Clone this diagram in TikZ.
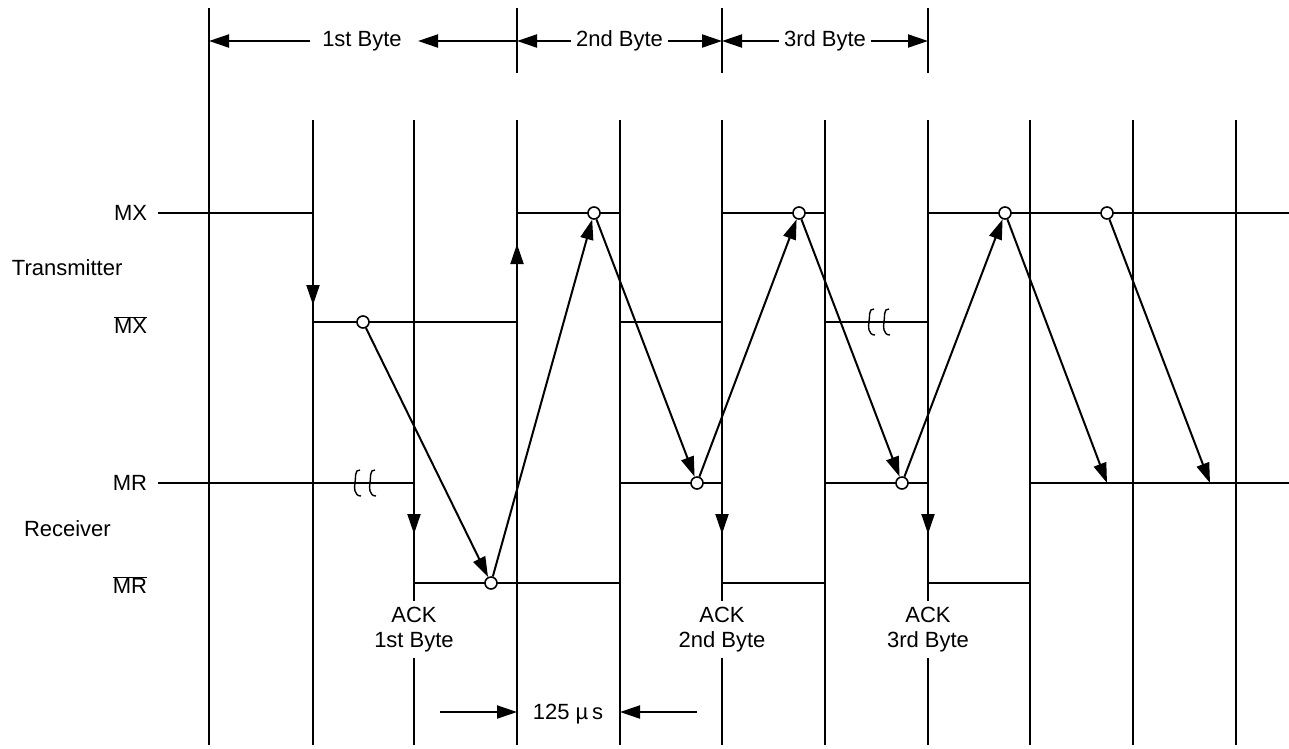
\documentclass[tikz,border=0pt]{standalone}
\usepackage{fontspec}
\setmainfont{Liberation Sans}
\usetikzlibrary{arrows.meta}
\newcommand\brkmark[2]{%
  \draw[line width=1.4pt] ({#1+5},{#2-13}) .. controls ({#1-1},{#2-14}) and ({#1+1},{#2-4}) .. ({#1},{#2})
     .. controls ({#1-1},{#2+4}) and ({#1-1},{#2+13}) .. ({#1+6},{#2+13});}
\begin{document}
\begin{tikzpicture}[x=1pt,y=-1pt,line width=2pt,
  tip/.style={-{Triangle[length=20pt,width=13pt]}},
  dot/.style={circle,draw,fill=white,minimum size=12pt,inner sep=0pt,line width=1.6pt},
  lbl/.style={font=\fontsize{22}{25}\selectfont,inner sep=2pt},
  sig/.style={line width=2pt}]
\useasboundingbox (0,0) rectangle (1289,748);

% grid lines
\draw (209,8) -- (209,745);
\foreach \x in {517,722,928} \draw (\x,8) -- (\x,73);
\foreach \x in {313,517,620,825,1030,1133,1236} \draw (\x,120) -- (\x,745);
\foreach \x in {414,722,928} {\draw (\x,120) -- (\x,601); \draw (\x,658) -- (\x,745);}

% top byte markers
\node[lbl] (b1) at (362,41) {1st Byte};
\coordinate (b1l) at (310,41);
\coordinate (b1a) at (209,41);
\coordinate (b1r) at (517,41);
\coordinate (b1t) at (418,41);
\draw[tip] (b1l) -- (b1a);
\draw[tip] (b1r) -- (b1t);
\node[lbl,inner sep=4pt] (b2) at (619.5,41) {2nd Byte};
\draw[tip] (b2.west) -- (517,41);
\draw[tip] (b2.east) -- (722,41);
\node[lbl,inner sep=4pt] (b3) at (825,41) {3rd Byte};
\draw[tip] (b3.west) -- (722,41);
\draw[tip] (b3.east) -- (928,41);

% left labels
\node[lbl,anchor=east] (lmx) at (150,213) {MX};
\node[lbl,anchor=west] (ltx) at (9,268) {Transmitter};
\node[lbl,anchor=east] (lmxb) at (150,325) {$\overline{\hbox{MX}}$};
\node[lbl,anchor=east] (lmr) at (150,483) {MR};
\node[lbl,anchor=west] (lrx) at (21,529) {Receiver};
\node[lbl,anchor=east] (lmrb) at (150,585) {$\overline{\hbox{MR}}$};

% MX
\draw[sig] (158,213) -- (313,213);
\draw[sig] (517,213) -- (620,213);
\draw[sig] (722,213) -- (825,213);
\draw[sig] (928,213) -- (1289,213);
% MX bar
\draw[sig] (313,322) -- (517,322);
\draw[sig] (620,322) -- (722,322);
\draw[sig] (825,322) -- (928,322);
% MR
\draw[sig] (158,483) -- (414,483);
\draw[sig] (620,483) -- (722,483);
\draw[sig] (825,483) -- (928,483);
\draw[sig] (1030,483) -- (1289,483);
% MR bar
\draw[sig] (414,583) -- (620,583);
\draw[sig] (722,583) -- (825,583);
\draw[sig] (928,583) -- (1030,583);

% break marks
\brkmark{355}{483}
\brkmark{370}{483}
\brkmark{869}{322}
\brkmark{884}{322}

% transition arrows
\draw[tip] (313,280) -- (313,305);
\draw[tip] (517,290) -- (517,244);
\foreach \x in {414,722,928} \draw[tip] (\x,505) -- (\x,534);

% circles
\node[dot] (c1) at (363,322) {};
\node[dot] (c2) at (491,583) {};
\node[dot] (c3) at (594,213) {};
\node[dot] (c4) at (697,483) {};
\node[dot] (c5) at (799,213) {};
\node[dot] (c6) at (902,483) {};
\node[dot] (c7) at (1005,213) {};
\node[dot] (c8) at (1107,213) {};
\coordinate (e7) at (1107,483);
\coordinate (e8) at (1210,483);

\draw[tip] (c1) -- (c2);
\draw[tip] (c2) -- (c3);
\draw[tip] (c3) -- (c4);
\draw[tip] (c4) -- (c5);
\draw[tip] (c5) -- (c6);
\draw[tip] (c6) -- (c7);
\draw[tip] (c7) -- (e7);
\draw[tip] (c8) -- (e8);

% ACK labels
\node[lbl,align=center] (a1) at (414,630) {ACK\\1st Byte};
\node[lbl,align=center] (a2) at (722,630) {ACK\\2nd Byte};
\node[lbl,align=center] (a3) at (928,630) {ACK\\3rd Byte};

% 125 us
\node[lbl] (us) at (568,714) {125 µ\,s};
\coordinate (ul) at (440,712);
\coordinate (ur) at (697,712);
\draw[tip] (ul) -- (517,712);
\draw[tip] (ur) -- (620,712);
\end{tikzpicture}
\end{document}
